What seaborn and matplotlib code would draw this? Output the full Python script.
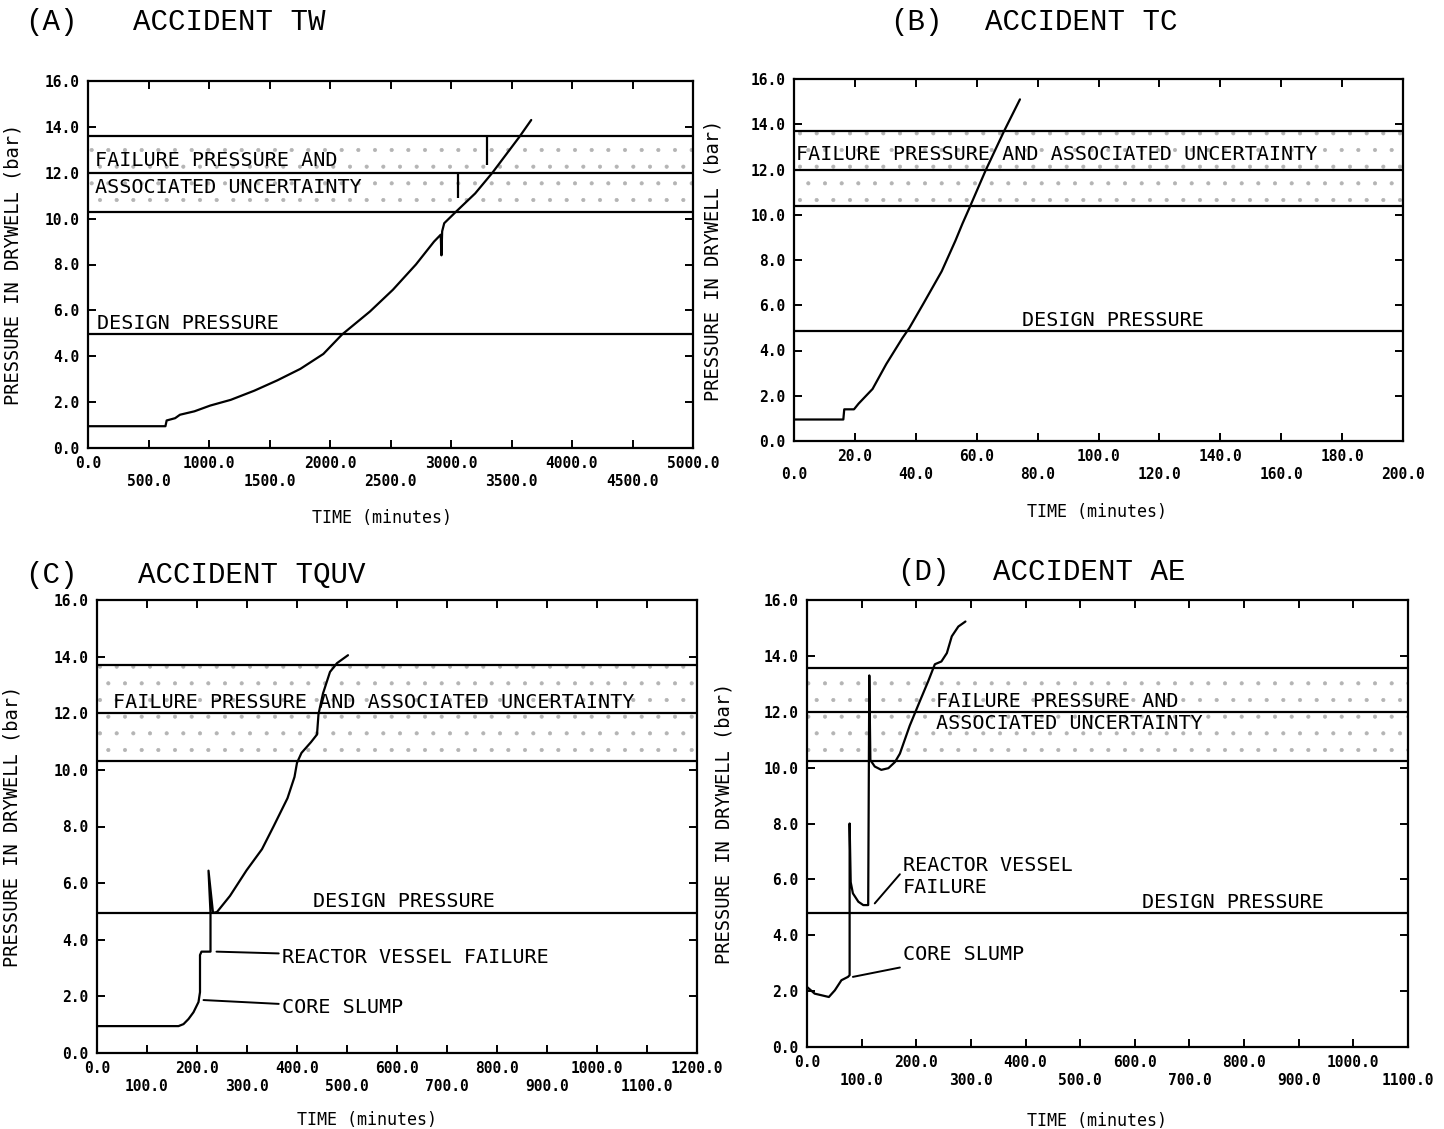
import numpy as np
import pandas as pd
import matplotlib
matplotlib.use('Agg')
import matplotlib.pyplot as plt
import seaborn as sns

# ---- data ----
# (A) accident TW
a_time = [0, 640, 650, 720, 760, 880, 1010, 1180, 1375, 1565, 1755, 1945, 2100, 2330,
          2520, 2710, 2860, 2915, 2921, 2927, 2944, 3041, 3200, 3342, 3566, 3663]
a_pressure = [0.95, 0.95, 1.2, 1.3, 1.45, 1.6, 1.85, 2.1, 2.5, 2.95, 3.45, 4.1, 4.95, 5.95,
              6.9, 8.0, 9.0, 9.3, 8.4, 9.45, 9.8, 10.3, 11.1, 12.0, 13.57, 14.3]
a_band = [10.3, 12.0, 13.6]
a_design = 4.95
a_mark_time = [3300, 3060]
a_mark_top = [13.6, 12.0]
a_mark_bottom = [12.35, 10.9]

# (B) accident TC
b_time = [0, 16.2, 16.5, 19.7, 21.2, 25.8, 30.3, 35.6, 37.9, 42.4, 48.5, 53.0, 55.3,
          57.6, 62.9, 69.0, 74.2]
b_pressure = [0.95, 0.95, 1.4, 1.4, 1.65, 2.3, 3.4, 4.55, 5.0, 6.05, 7.5, 8.85, 9.6,
              10.3, 11.95, 13.7, 15.1]
b_band = [10.4, 12.0, 13.7]
b_design = 4.87

# (C) accident TQUV
c_time = [0, 163, 173, 183, 193, 203, 206, 206, 209, 227, 227, 223, 232, 240, 266, 299,
          330, 353, 381, 395, 400, 409, 428, 440, 443, 452, 466, 480, 502]
c_pressure = [0.95, 0.95, 1.02, 1.2, 1.44, 1.8, 2.15, 3.46, 3.58, 3.58, 4.95, 6.44, 4.95,
              4.98, 5.55, 6.45, 7.2, 8.0, 9.0, 9.75, 10.25, 10.6, 10.98, 11.25, 11.97,
              12.7, 13.46, 13.77, 14.05]
c_band = [10.3, 12.0, 13.7]
c_design = 4.95

# (D) accident AE
d_time = [0, 14, 40, 51, 63, 75, 78, 78, 80, 84, 94, 103, 112, 114, 116, 124, 136, 149,
          161, 170, 188, 207, 222, 234, 246, 256, 265, 277, 290]
d_pressure = [2.15, 1.91, 1.79, 2.03, 2.39, 2.51, 2.57, 8.0, 5.9, 5.5, 5.2, 5.08, 5.08,
              13.3, 10.27, 10.04, 9.92, 9.98, 10.2, 10.5, 11.5, 12.4, 13.1, 13.7, 13.8,
              14.1, 14.7, 15.05, 15.23]
d_band = [10.25, 12.0, 13.55]
d_design = 4.8

y_ticks = [0, 2, 4, 6, 8, 10, 12, 14, 16]

sns.set_style('ticks')
plt.rcParams['font.family'] = ['DejaVu Sans Mono', 'DejaVu Sans']
plt.rcParams['hatch.linewidth'] = 0.5
plt.rcParams['text.color'] = 'black'
plt.rcParams['axes.labelcolor'] = 'black'
plt.rcParams['xtick.color'] = 'black'
plt.rcParams['ytick.color'] = 'black'

fig = plt.figure(figsize=(14.44, 11.29), dpi=100)
W, H = 1444, 1129


def add_axes(left, right, top, bottom):
    return fig.add_axes([left / W, 1 - bottom / H, (right - left) / W, (bottom - top) / H])


def staggered(ticks, top_row_first=True):
    labels = []
    for i, t in enumerate(ticks):
        top = (i % 2 == 0) if top_row_first else (i % 2 == 1)
        s = f'{t:.1f}'
        labels.append(s if top else '\n' + s)
    return labels


def setup(ax, xmax, xticks, top_row_first, band, design, xlab_pos, ylab_pos):
    ax.set_xlim(0, xmax)
    ax.set_ylim(0, 16)
    ax.axhspan(band[0], band[2], facecolor='none', edgecolor='#b4b4b4', hatch='.', lw=0)
    for lvl in band:
        ax.axhline(lvl, color='black', lw=1.6)
    ax.axhline(design, color='black', lw=1.6)
    ax.set_xticks(xticks)
    ax.set_xticklabels(staggered(xticks, top_row_first))
    ax.set_yticks(y_ticks)
    ax.set_yticklabels([f'{v:.1f}' for v in y_ticks])
    ax.tick_params(direction='in', top=True, right=True, length=6, width=1.4,
                   labelsize=10.5, pad=6)
    for lab in ax.get_xticklabels() + ax.get_yticklabels():
        lab.set_fontweight('bold')
    for sp in ax.spines.values():
        sp.set_linewidth(1.6)
        sp.set_color('black')
    ax.set_xlabel('TIME (minutes)', fontsize=12)
    ax.set_ylabel('PRESSURE IN DRYWELL (bar)', fontsize=13.5)
    ax.xaxis.set_label_coords(*xlab_pos)
    ax.yaxis.set_label_coords(*ylab_pos)


txt = dict(fontsize=14.5, color='black')
arrow = dict(arrowstyle='-', color='black', lw=1.4, shrinkA=0, shrinkB=0)

# ---- panel A ----
ax = add_axes(88, 693, 81, 448)
setup(ax, 5000, list(range(0, 5001, 500)), True, a_band, a_design, (0.486, -0.165), (-0.109, 0.5))
ax.vlines(a_mark_time, a_mark_bottom, a_mark_top, color='black', lw=1.6)
sns.lineplot(x=a_time, y=a_pressure, sort=False, estimator=None, color='black', lw=1.6, ax=ax)
ax.text(60, 12.55, 'FAILURE PRESSURE AND', va='center', **txt)
ax.text(60, 11.37, 'ASSOCIATED UNCERTAINTY', va='center', **txt)
ax.text(75, a_design + 0.05, 'DESIGN PRESSURE', va='bottom', **txt)

# ---- panel B ----
ax = add_axes(794, 1403, 79, 441)
setup(ax, 200, list(range(0, 201, 20)), False, b_band, b_design, (0.497, -0.17), (-0.118, 0.5))
sns.lineplot(x=b_time, y=b_pressure, sort=False, estimator=None, color='black', lw=1.6, ax=ax)
ax.text(0.5, 12.65, 'FAILURE PRESSURE AND ASSOCIATED UNCERTAINTY', va='center', **txt)
ax.text(75, b_design + 0.05, 'DESIGN PRESSURE', va='bottom', **txt)

# ---- panel C ----
ax = add_axes(97, 697, 600, 1053)
setup(ax, 1200, list(range(0, 1201, 100)), True, c_band, c_design, (0.45, -0.127), (-0.125, 0.5))
sns.lineplot(x=c_time, y=c_pressure, sort=False, estimator=None, color='black', lw=1.6, ax=ax)
ax.text(32, 12.05, 'FAILURE PRESSURE AND ASSOCIATED UNCERTAINTY', va='bottom', **txt)
ax.text(432, c_design + 0.05, 'DESIGN PRESSURE', va='bottom', **txt)
ax.annotate('REACTOR VESSEL FAILURE', xy=(239, 3.58), xytext=(370, 3.38), va='center',
            arrowprops=arrow, **txt)
ax.annotate('CORE SLUMP', xy=(213, 1.87), xytext=(370, 1.62), va='center',
            arrowprops=arrow, **txt)

# ---- panel D ----
ax = add_axes(807, 1408, 600, 1047)
setup(ax, 1100, list(range(0, 1101, 100)), True, d_band, d_design, (0.483, -0.145), (-0.123, 0.5))
sns.lineplot(x=d_time, y=d_pressure, sort=False, estimator=None, color='black', lw=1.6, ax=ax)
ax.text(236, 12.36, 'FAILURE PRESSURE AND', va='center', **txt)
ax.text(236, 11.57, 'ASSOCIATED UNCERTAINTY', va='center', **txt)
ax.text(614, d_design + 0.05, 'DESIGN PRESSURE', va='bottom', **txt)
ax.annotate('REACTOR VESSEL\nFAILURE', xy=(124, 5.14), xytext=(176, 6.1), va='center',
            arrowprops=dict(arrow, relpos=(0, 0.65)), **txt)
ax.annotate('CORE SLUMP', xy=(84, 2.51), xytext=(176, 3.3), va='center',
            arrowprops=arrow, **txt)

# ---- panel titles ----
title_kw = dict(fontsize=21, family='Liberation Mono', va='center')
fig.text(25 / W, 1 - 22 / H, '(A)', **title_kw)
fig.text(133 / W, 1 - 22 / H, 'ACCIDENT TW', **title_kw)
fig.text(890 / W, 1 - 22 / H, '(B)', **title_kw)
fig.text(985 / W, 1 - 22 / H, 'ACCIDENT TC', **title_kw)
fig.text(25 / W, 1 - 575 / H, '(C)', **title_kw)
fig.text(138 / W, 1 - 575 / H, 'ACCIDENT TQUV', **title_kw)
fig.text(897 / W, 1 - 572 / H, '(D)', **title_kw)
fig.text(993 / W, 1 - 572 / H, 'ACCIDENT AE', **title_kw)

fig.savefig('out.png', dpi=100, facecolor='white')
